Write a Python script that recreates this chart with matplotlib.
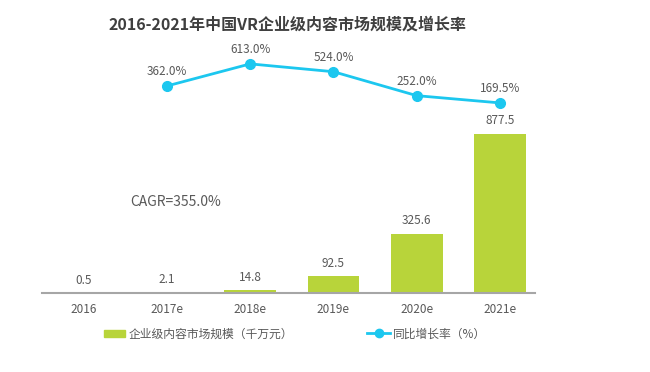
import matplotlib
matplotlib.use('Agg')
import matplotlib.pyplot as plt
from matplotlib.lines import Line2D
from matplotlib.patches import Patch

plt.rcParams['font.family'] = ['Noto Sans CJK SC', 'DejaVu Sans']

# 数据
years = ['2016', '2017e', '2018e', '2019e', '2020e', '2021e']
market_size = [0.5, 2.1, 14.8, 92.5, 325.6, 877.5]
growth_years = ['2017e', '2018e', '2019e', '2020e', '2021e']
growth_rate = [362.0, 613.0, 524.0, 252.0, 169.5]

title = '2016-2021年中国VR企业级内容市场规模及增长率'
bar_name = '企业级内容市场规模（千万元）'
line_name = '同比增长率（%）'
cagr_text = 'CAGR=355.0%'

bar_color = '#B8D43A'
line_color = '#1CC7EF'
text_color = '#595959'

fig = plt.figure(figsize=(6.5, 3.72), dpi=100)
ax = fig.add_axes([0.0646, 0.2124, 0.7585, 0.64])

x = list(range(len(years)))
ax.bar(x, market_size, width=0.62, color=bar_color, zorder=2)
ax.set_xlim(-0.5, 5.42)
ax.set_ylim(0, 1310)
for xi, v in zip(x, market_size):
    ax.text(xi, v + 35, f'{v:.1f}', ha='center', va='bottom', fontsize=8.5, color=text_color)

for s in ['top', 'right', 'left']:
    ax.spines[s].set_visible(False)
ax.spines['bottom'].set_color('#A6A6A6')
ax.spines['bottom'].set_linewidth(1.5)
ax.set_yticks([])
ax.set_xticks(x)
ax.set_xticklabels(years, fontsize=8.5, color=text_color)
ax.tick_params(axis='x', length=0, pad=7)

# 增长率折线（次坐标轴）
ax2 = ax.twinx()
gx = [years.index(y) for y in growth_years]
ax2.plot(gx, growth_rate, color=line_color, lw=2, marker='o', ms=7, zorder=3)
ax2.set_ylim(-1990, 715)
ax2.set_yticks([])
for s in ['top', 'right', 'left', 'bottom']:
    ax2.spines[s].set_visible(False)
for xi, v in zip(gx, growth_rate):
    ax2.text(xi, v + 90, f'{v:.1f}%', ha='center', va='bottom', fontsize=8.5, color=text_color)

fig.text(0.2, 0.457, cagr_text, fontsize=10, color=text_color, ha='left', va='center')
fig.text(0.442, 0.933, title, fontsize=11.5, fontweight='bold', color='#3F3F3F', ha='center', va='center')

# 图例
leg1 = fig.legend([Patch(color=bar_color)], [bar_name], loc='center left', bbox_to_anchor=(0.16, 0.102),
                  frameon=False, fontsize=8.5, labelcolor=text_color, handlelength=1.8, handleheight=0.55,
                  handletextpad=0.25, borderpad=0, borderaxespad=0)
leg2 = fig.legend([Line2D([], [], color=line_color, lw=2, marker='o', ms=6)], [line_name], loc='center left',
                  bbox_to_anchor=(0.5646, 0.102), frameon=False, fontsize=8.5, labelcolor=text_color,
                  handlelength=1.95, handletextpad=0.25, borderpad=0, borderaxespad=0)

fig.savefig('out.png', dpi=100)
